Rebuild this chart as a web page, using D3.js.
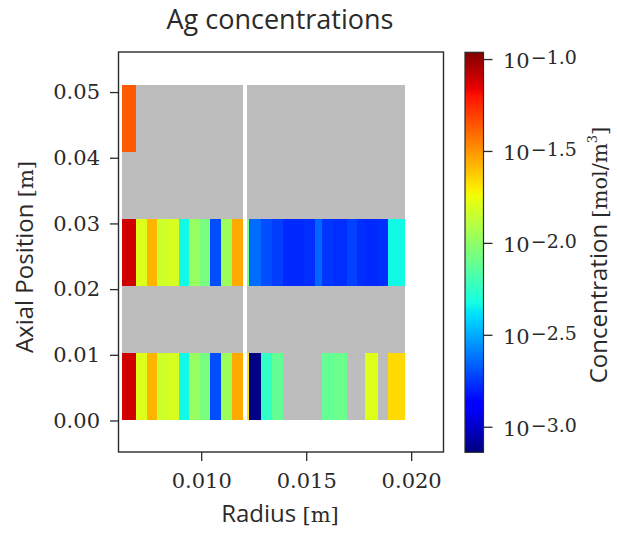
<!DOCTYPE html>
<html><head><meta charset="utf-8">
<script src="https://cdn.jsdelivr.net/npm/d3@7"></script>
<style>
html,body{margin:0;padding:0;background:#fff;}
svg{display:block;}
</style></head><body>
<svg id="chart" width="617" height="533"></svg>
<script>
// Radial cell edges (m): fuel region and cladding region
const fuelEdges = [0.00625, 0.00688, 0.00740, 0.00789, 0.00840, 0.00892, 0.00943, 0.00995, 0.01044, 0.01095, 0.01146, 0.01197];
const cladEdges = [0.01218, 0.01229, 0.01286, 0.01337, 0.01388, 0.01438, 0.01491, 0.01543, 0.01575, 0.01629, 0.01692, 0.01741, 0.01781, 0.01844, 0.01888, 0.01933, 0.01971];
// Axial layer edges (m)
const axialEdges = [0, 0.0102, 0.0204, 0.0306, 0.0408, 0.051];

// Ag concentration per cell (mol/m^3), bottom layer first; null = no value
const fuelConc = [
  [0.0766, 0.0162, 0.0266, 0.0147, 0.0154, 0.00464, 0.0105, 0.00871, 0.00198, 0.0109, 0.0281],
  [null, null, null, null, null, null, null, null, null, null, null],
  [0.0766, 0.0162, 0.0266, 0.0147, 0.0154, 0.00464, 0.0105, 0.00871, 0.00198, 0.0109, 0.0281],
  [null, null, null, null, null, null, null, null, null, null, null],
  [0.0431, null, null, null, null, null, null, null, null, null, null]
];
const cladConc = [
  [0.0208, 0.000745, 0.00566, 0.00764, null, null, null, null, 0.00764, 0.00803, null, null, 0.0162, null, 0.0219, 0.0219],
  [null, null, null, null, null, null, null, null, null, null, null, null, null, null, null, null],
  [0.00889, 0.00230, 0.00198, 0.00183, 0.00166, 0.00166, 0.00170, 0.00224, 0.00175, 0.00170, 0.00188, 0.00170, 0.00166, 0.00170, 0.00464, 0.00464],
  [null, null, null, null, null, null, null, null, null, null, null, null, null, null, null, null],
  [null, null, null, null, null, null, null, null, null, null, null, null, null, null, null, null]
];

const xTicks = [0.010, 0.015, 0.020];
const yTicks = [0.00, 0.01, 0.02, 0.03, 0.04, 0.05];
const cbarExponents = [-1.0, -1.5, -2.0, -2.5, -3.0];
const cbarLimits = [0.000726, 0.1088];

const SERIF = "'DejaVu Serif', 'Liberation Serif', serif";
const SANS = "'Open Sans', 'DejaVu Sans', sans-serif";
const INK = "#2a2a2a";
const MISSING = "#bdbdbd";

const svg = d3.select("#chart");
const box = {left: 118.5, top: 52, right: 443.5, bottom: 452};

const x = d3.scaleLinear().domain([0.00606, 0.02154]).range([box.left, box.right]);
const y = d3.scaleLinear().domain([-0.0048, 0.0561]).range([box.bottom, box.top]);

// matplotlib "jet" colormap, piecewise linear per channel
const jetR = d3.scaleLinear().domain([0, 0.35, 0.66, 0.89, 1]).range([0, 0, 1, 1, 0.5]).clamp(true);
const jetG = d3.scaleLinear().domain([0, 0.125, 0.375, 0.64, 0.91, 1]).range([0, 0, 1, 1, 0, 0]).clamp(true);
const jetB = d3.scaleLinear().domain([0, 0.11, 0.34, 0.65, 1]).range([0.5, 1, 1, 0, 0]).clamp(true);
const jet = t => d3.rgb(jetR(t) * 255, jetG(t) * 255, jetB(t) * 255).formatHex();
const norm = d3.scaleLog().domain(cbarLimits).range([0, 1]).clamp(true);
const colorOf = v => v == null ? MISSING : jet(norm(v));

// mesh cells
function drawMesh(edges, conc, cls) {
  const cells = [];
  conc.forEach((row, i) => row.forEach((v, j) => cells.push({
    r0: edges[j], r1: edges[j + 1], z0: axialEdges[i], z1: axialEdges[i + 1], v
  })));
  svg.append("g").attr("class", cls)
    .selectAll("rect").data(cells).join("rect")
    .attr("x", d => x(d.r0))
    .attr("y", d => y(d.z1))
    .attr("width", d => x(d.r1) - x(d.r0))
    .attr("height", d => y(d.z0) - y(d.z1))
    .attr("fill", d => colorOf(d.v))
    .attr("shape-rendering", "crispEdges");
}
drawMesh(fuelEdges, fuelConc, "fuel");
drawMesh(cladEdges, cladConc, "clad");

// axes frame
svg.append("rect")
  .attr("x", box.left).attr("y", box.top)
  .attr("width", box.right - box.left).attr("height", box.bottom - box.top)
  .attr("fill", "none").attr("stroke", INK).attr("stroke-width", 1.4);

const xAxis = svg.append("g").attr("transform", `translate(0,${box.bottom})`)
  .call(d3.axisBottom(x).tickValues(xTicks).tickFormat(d3.format(".3f")).tickSize(9).tickPadding(12));
const yAxis = svg.append("g").attr("transform", `translate(${box.left},0)`)
  .call(d3.axisLeft(y).tickValues(yTicks).tickFormat(d3.format(".2f")).tickSize(8.5).tickPadding(10));
[xAxis, yAxis].forEach(g => {
  g.select(".domain").remove();
  g.selectAll(".tick line").attr("stroke", INK).attr("stroke-width", 1.3);
  g.selectAll(".tick text").attr("fill", INK).style("font-family", SERIF).style("font-size", "21px");
});

// title
svg.append("text").attr("x", 280).attr("y", 29).attr("text-anchor", "middle")
  .style("font-family", SANS).style("font-size", "27px").attr("fill", INK)
  .text("Ag concentrations");

// x label
const xl = svg.append("text").attr("x", 280).attr("y", 522).attr("text-anchor", "middle")
  .attr("fill", INK);
xl.append("tspan").style("font-family", SANS).style("font-size", "24px").text("Radius ");
xl.append("tspan").style("font-family", SERIF).style("font-size", "21px").text("[m]");

// y label
const yl = svg.append("text").attr("transform", "translate(33,257) rotate(-90)")
  .attr("text-anchor", "middle").attr("fill", INK);
yl.append("tspan").style("font-family", SANS).style("font-size", "24px").text("Axial Position ");
yl.append("tspan").style("font-family", SERIF).style("font-size", "21px").text("[m]");

// colorbar
const cb = {left: 465, right: 483.5, top: 52.3, bottom: 452.3};
const cy = d3.scaleLog().domain(cbarLimits).range([cb.bottom, cb.top]);
const stopsT = [0, 0.11, 0.125, 0.34, 0.35, 0.375, 0.64, 0.65, 0.66, 0.89, 0.91, 1];
const grad = svg.append("defs").append("linearGradient").attr("id", "jetGrad")
  .attr("x1", 0).attr("y1", 1).attr("x2", 0).attr("y2", 0);
grad.selectAll("stop").data(stopsT).join("stop")
  .attr("offset", d => d).attr("stop-color", d => jet(d));
svg.append("rect").attr("x", cb.left).attr("y", cb.top)
  .attr("width", cb.right - cb.left).attr("height", cb.bottom - cb.top)
  .attr("fill", "url(#jetGrad)").attr("stroke", INK).attr("stroke-width", 1.2);

const cAxis = svg.append("g").attr("transform", `translate(${cb.right},0)`)
  .call(d3.axisRight(cy).tickValues(cbarExponents.map(e => Math.pow(10, e))).tickFormat("").tickSize(9));
cAxis.select(".domain").remove();
cAxis.selectAll(".tick line").attr("stroke", INK).attr("stroke-width", 1.3);
cAxis.selectAll(".tick").each(function (d, i) {
  const t = d3.select(this).append("text").attr("x", 19.5).attr("dy", "0.4em")
    .attr("fill", INK).style("font-family", SERIF).style("font-size", "21px");
  t.append("tspan").text("10");
  t.append("tspan").attr("dx", 1).attr("dy", -4).style("font-size", "19px")
    .text("\u2212" + Math.abs(cbarExponents[i]).toFixed(1));
});

// colorbar label
const cl = svg.append("text").attr("transform", "translate(607,255) rotate(-90)")
  .attr("text-anchor", "middle").attr("fill", INK);
cl.append("tspan").style("font-family", SANS).style("font-size", "24px").text("Concentration ");
cl.append("tspan").style("font-family", SERIF).style("font-size", "21px").text("[mol/m");
cl.append("tspan").style("font-family", SERIF).style("font-size", "13px").attr("dy", -10).text("3");
cl.append("tspan").style("font-family", SERIF).style("font-size", "21px").attr("dy", 10).text("]");
</script>
</body></html>
